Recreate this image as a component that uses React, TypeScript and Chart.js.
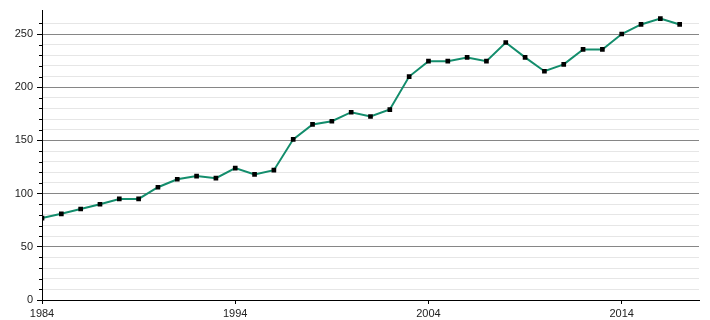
import React, { useEffect, useRef } from "react";
import { Chart, registerables } from "chart.js";

Chart.register(...registerables);

const years = [
  1984, 1985, 1986, 1987, 1988, 1989, 1990, 1991, 1992, 1993, 1994, 1995,
  1996, 1997, 1998, 1999, 2000, 2001, 2002, 2003, 2004, 2005, 2006, 2007,
  2008, 2009, 2010, 2011, 2012, 2013, 2014, 2015, 2016, 2017,
];
const values = [
  77, 81, 85.5, 90, 95, 95, 106, 113.5, 116.5, 114.5, 124, 118, 122, 151,
  165, 168, 176.5, 172.5, 179, 210, 224.5, 224.5, 228, 224.5, 242, 228, 215,
  221.5, 235.5, 235.5, 250, 259, 264.5, 259,
];
const xTickLabels = [1984, 1994, 2004, 2014];
const yLabelTicks = [0, 50, 100, 150, 200, 250];

const minorTicks = {
  id: "minorTicks",
  afterDraw(chart: any) {
    const ctx = chart.ctx;
    const y = chart.scales.y;
    ctx.save();
    ctx.strokeStyle = "#000";
    ctx.lineWidth = 1;
    y.ticks.forEach((t: any) => {
      if (t.value % 50 === 0) return;
      const py = Math.round(y.getPixelForValue(t.value)) + 0.5;
      ctx.beginPath();
      ctx.moveTo(y.right - 3, py);
      ctx.lineTo(y.right, py);
      ctx.stroke();
    });
    ctx.restore();
  },
};

export default function App() {
  const ref = useRef<HTMLCanvasElement>(null);
  useEffect(() => {
    document.body.style.margin = "0";
    const chart = new Chart(ref.current as HTMLCanvasElement, {
      type: "line",
      data: {
        datasets: [
          {
            data: years.map((yr, i) => ({ x: yr, y: values[i] })),
            borderColor: "#138d6c",
            borderWidth: 2,
            pointStyle: "rect",
            pointRadius: 3.3,
            pointBackgroundColor: "#000",
            pointBorderColor: "#000",
            pointBorderWidth: 0,
            tension: 0,
            fill: false,
          },
        ],
      },
      options: {
        animation: false,
        responsive: false,
        devicePixelRatio: 1,
        layout: { padding: { top: 10, right: 11, left: 0, bottom: 0 } },
        plugins: { legend: { display: false }, tooltip: { enabled: false } },
        scales: {
          x: {
            type: "linear",
            min: 1984,
            max: 2018,
            afterFit: (s: any) => {
              s.height = 20;
            },
            afterBuildTicks: (s: any) => {
              s.ticks = xTickLabels.map((v) => ({ value: v }));
            },
            border: { color: "#000", width: 1 },
            grid: {
              display: true,
              drawOnChartArea: false,
              drawTicks: true,
              tickLength: 4,
              tickColor: "#000",
              tickWidth: 1,
            },
            ticks: {
              autoSkip: false,
              maxRotation: 0,
              padding: 3,
              color: "#222",
              font: { family: "Liberation Sans", size: 11 },
              callback: (v: any) => String(v),
            },
          },
          y: {
            type: "linear",
            min: 0,
            max: 272,
            afterFit: (s: any) => {
              s.width = 42;
            },
            afterBuildTicks: (s: any) => {
              s.ticks = s.ticks.filter((t: any) => t.value % 10 === 0);
            },
            border: { color: "#000", width: 1 },
            grid: {
              color: (c: any) =>
                c.tick && c.tick.value % 50 === 0 ? "#868686" : "#e6e6e6",
              lineWidth: 1,
              drawTicks: true,
              tickLength: 5,
              tickWidth: 1,
              tickColor: (c: any) =>
                c.tick && c.tick.value % 50 === 0 ? "#000" : "rgba(0,0,0,0)",
            },
            ticks: {
              stepSize: 10,
              autoSkip: false,
              padding: 4,
              color: "#222",
              font: { family: "Liberation Sans", size: 11 },
              callback: (v: any) =>
                yLabelTicks.includes(Number(v)) ? String(v) : "",
            },
          },
        },
      },
      plugins: [minorTicks],
    });
    return () => chart.destroy();
  }, []);
  return (
    <div style={{ width: 710, height: 320 }}>
      <canvas ref={ref} width={710} height={320} />
    </div>
  );
}
